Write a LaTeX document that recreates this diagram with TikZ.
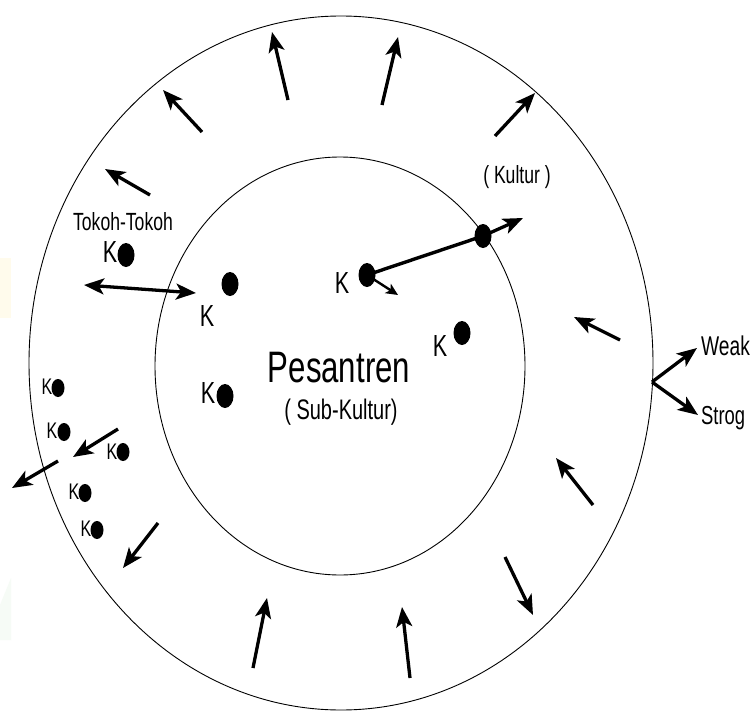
\documentclass[tikz,border=0pt]{standalone}
\usepackage{fontspec}
\setmainfont{Liberation Sans}[FakeStretch=0.8]
\usetikzlibrary{arrows.meta,shapes.geometric}
\newcommand\vstr[1]{\scalebox{1}[1.13]{#1}}
\begin{document}
\begin{tikzpicture}[x=1pt,y=-1pt,
  ring/.style={line width=0.9pt},
  arr/.style={line width=3.3pt,-{Stealth[length=20pt,width=16pt,inset=5pt]}},
  darr/.style={line width=3.3pt,{Stealth[length=20pt,width=16pt,inset=5pt]}-{Stealth[length=20pt,width=16pt,inset=5pt]}},
  sarr/.style={line width=2.4pt,-{Stealth[length=12pt,width=11pt,inset=3pt]}},
  bigdot/.style={ellipse,fill=black,inner sep=0pt,minimum width=17pt,minimum height=24pt},
  smalldot/.style={ellipse,fill=black,inner sep=0pt,minimum width=13pt,minimum height=18pt},
  bigk/.style={inner sep=0pt,font=\fontsize{27}{29}\selectfont},
  smallk/.style={inner sep=0pt,font=\fontsize{20}{22}\selectfont},
  lbl/.style={inner sep=0pt,font=\fontsize{22}{24}\selectfont}]
\fill[white] (0,0) rectangle (753,712);
\useasboundingbox (0,0) rectangle (753,712);
% faint background tints
\fill[color={rgb,255:red,255;green,251;blue,236}] (0,258) rectangle (11,318);
\fill[color={rgb,255:red,246;green,251;blue,246}] (0,605) -- (11,578) -- (11,640) -- (0,640) -- cycle;
% rings
\draw[ring] (341,363) ellipse [x radius=312pt, y radius=347pt];
\draw[ring] (340,366) ellipse [x radius=185pt, y radius=209pt];
% outer-ring arrows
\coordinate (a1s) at (288,100); \coordinate (a1e) at (272,32);
\coordinate (a2s) at (382,105); \coordinate (a2e) at (398,37);
\coordinate (a3s) at (202,132); \coordinate (a3e) at (163,90);
\coordinate (a4s) at (495,136); \coordinate (a4e) at (535,93);
\coordinate (a5s) at (150,195); \coordinate (a5e) at (105,169);
\coordinate (a6s) at (620,340); \coordinate (a6e) at (574,317);
\coordinate (a7s) at (593,505); \coordinate (a7e) at (556,458);
\coordinate (a8s) at (505,557); \coordinate (a8e) at (533,615);
\coordinate (a9s) at (253,668); \coordinate (a9e) at (267,598);
\coordinate (a10s) at (410,678); \coordinate (a10e) at (402,607);
\coordinate (a11s) at (158,523); \coordinate (a11e) at (123,568);
\coordinate (a12s) at (118,429); \coordinate (a12e) at (73,457);
\coordinate (a13s) at (58,461); \coordinate (a13e) at (12,488);
\foreach \i in {1,...,13} {\draw[arr] (a\i s) -- (a\i e);}
% double arrow
\coordinate (dl) at (84,285); \coordinate (dr) at (196,293);
\draw[darr] (dl) -- (dr);
% dots and K labels
\node[bigdot] (tk) at (126,255) {};
\node[bigk] (tkk) at (110,252) {\vstr{K}};
\node[lbl] (tokoh) at (123,222) {\vstr{Tokoh-Tokoh}};
\node[bigdot] (k1) at (230,284) {};
\node[bigk] (k1k) at (207,316) {\vstr{K}};
\node[bigdot] (k2) at (367,275) {};
\node[bigk] (k2k) at (342,283) {\vstr{K}};
\node[bigdot] (k2b) at (483,236) {};
\coordinate (k2be) at (523,218);
\coordinate (k2se) at (398,295);
\draw[line width=3.4pt] (k2.center) -- (k2b.center);
\draw[arr] (k2b.center) -- (k2be);
\draw[sarr] (k2.center) -- (k2se);
\node[bigdot] (k3) at (462,333) {};
\node[bigk] (k3k) at (440,346) {\vstr{K}};
\node[bigdot] (k4) at (225,396) {};
\node[bigk] (k4k) at (208,393) {\vstr{K}};
% small K cluster
\node[smalldot] (s1) at (58,388) {};
\node[smallk] (s1k) at (47,387) {\vstr{K}};
\node[smalldot] (s2) at (64,432) {};
\node[smallk] (s2k) at (52,431) {\vstr{K}};
\node[smalldot] (s3) at (123,452) {};
\node[smallk] (s3k) at (112,452) {\vstr{K}};
\node[smalldot] (s4) at (85,493) {};
\node[smallk] (s4k) at (74,492) {\vstr{K}};
\node[smalldot] (s5) at (97,530) {};
\node[smallk] (s5k) at (86,529) {\vstr{K}};
% central labels
\node[inner sep=0pt,font=\fontsize{39}{41}\selectfont] (pes) at (339,368) {\vstr{Pesantren}};
\node[inner sep=0pt,font=\fontsize{25}{27}\selectfont] (sub) at (341,412) {\vstr{( Sub-Kultur)}};
\node[lbl] (kul) at (517,177) {\vstr{( Kultur )}};
% weak / strong
\coordinate (ws) at (652,382);
\coordinate (we) at (697,348);
\coordinate (se) at (698,415);
\draw[arr] (ws) -- (we);
\draw[arr] (ws) -- (se);
\node[inner sep=0pt,anchor=west,font=\fontsize{24}{26}\selectfont] (weak) at (701,346) {\vstr{Weak}};
\node[inner sep=0pt,anchor=west,font=\fontsize{23}{25}\selectfont] (strog) at (701,418) {\vstr{Strog}};
\end{tikzpicture}
\end{document}
